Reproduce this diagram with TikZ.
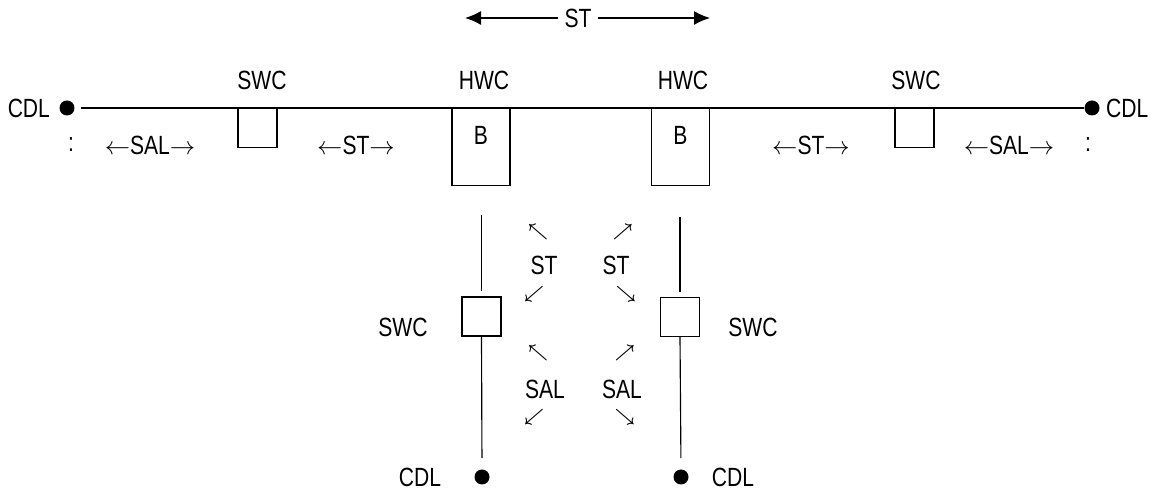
\documentclass[tikz,border=0pt]{standalone}
\usepackage{fontspec}
\setmainfont{Liberation Sans}[FakeStretch=0.8]
\usepackage{tikz}
\usetikzlibrary{arrows.meta,positioning,calc}

\begin{document}
\begin{tikzpicture}[
    x=0.02cm,y=-0.02cm,
    font=\fontsize{15}{17}\selectfont,
    chave/.style={draw,line width=0.65pt,minimum width=0.78cm,minimum height=0.78cm,inner sep=0pt},
    bloco/.style={draw,line width=0.65pt,minimum width=1.16cm,minimum height=1.54cm,inner sep=0pt},
    ponto/.style={circle,fill=black,minimum size=0.3cm,inner sep=0pt},
    linha/.style={line width=#1},
    seta/.style={-{Latex[length=0.32cm,width=0.28cm]},line width=0.75pt},
    diag/.style={font=\fontsize{10}{11}\selectfont\boldmath,inner sep=0pt}
    ]
    \useasboundingbox (0,0) rectangle (1153,492);

    % linha principal
    \node[ponto] (cdlE) at (67,108) {};
    \node[ponto] (cdlD) at (1092,108) {};
    \node[left=0.06cm of cdlE]  (cdlEt) {CDL};
    \node[right=0pt of cdlD]    (cdlDt) {CDL};
    \node[chave,anchor=north] (swcE) at (257.5,108) {};
    \node[bloco,anchor=north] (hwcE) at (481,108) {};
    \node[bloco,anchor=north] (hwcD) at (680.5,108) {};
    \node[chave,anchor=north] (swcD) at (914.5,108) {};
    \draw[linha=0.9pt,shorten <=0.12cm] (cdlE) -- (cdlD);

    \node (bE) at ($(hwcE.north)+(0,27.5)$) {B};
    \node (bD) at ($(hwcD.north)+(0,27.5)$) {B};
    \node (swcEt) at (262,80) {SWC};
    \node (hwcEt) at (484,80) {HWC};
    \node (hwcDt) at (683,80) {HWC};
    \node (swcDt) at (916,80) {SWC};

    \node (pE)   at (71,145)   {:};
    \node (salE) at (150,145)  {$\leftarrow$SAL$\rightarrow$};
    \node (stE)  at (356,145)  {$\leftarrow$ST$\rightarrow$};
    \node (stD)  at (811,145)  {$\leftarrow$ST$\rightarrow$};
    \node (salD) at (1009,145) {$\leftarrow$SAL$\rightarrow$};
    \node (pD)   at (1088,145) {:};

    % ST no topo
    \node (stTopo) at (578,18) {ST};
    \coordinate (setaE) at (465,18);
    \coordinate (setaD) at (710,18);
    \draw[seta] (stTopo) -- (setaE);
    \draw[seta] (stTopo) -- (setaD);

    % ramos verticais
    \coordinate (topo1) at (481.5,215);
    \coordinate (topo2) at (680,217);
    \node[chave] (swcB1) at (481.5,316.5) {};
    \node[chave] (swcB2) at (680,317) {};
    \node[ponto] (cdlB1) at (482,477) {};
    \node[ponto] (cdlB2) at (681,477) {};
    \draw[linha=0.65pt,shorten >=0.1cm] (topo1) -- (swcB1.north);
    \draw[linha=0.65pt,shorten >=0.1cm] (topo2) -- (swcB2.north);
    \draw[linha=0.65pt,shorten >=0.22cm] (swcB1.south) -- (cdlB1.north);
    \draw[linha=0.65pt,shorten >=0.22cm] (swcB2.south) -- (cdlB2.north);

    \node (swcB1t) at (403,327) {SWC};
    \node (swcB2t) at (753,327) {SWC};
    \node (cdlB1t) at (420,477) {CDL};
    \node (cdlB2t) at (733,477) {CDL};

    % setas diagonais
    \node[diag] (a1) at (538,232) {$\nwarrow$};
    \node (st1) at (544,265) {ST};
    \node[diag] (a2) at (534,294) {$\swarrow$};
    \node[diag] (a3) at (538,353) {$\nwarrow$};
    \node (sal1) at (545,389) {SAL};
    \node[diag] (a4) at (534,417) {$\swarrow$};

    \node[diag] (a5) at (623,232) {$\nearrow$};
    \node (st2) at (616,265) {ST};
    \node[diag] (a6) at (626,294) {$\searrow$};
    \node[diag] (a7) at (625,353) {$\nearrow$};
    \node (sal2) at (622,389) {SAL};
    \node[diag] (a8) at (625,417) {$\searrow$};
  \end{tikzpicture}
\end{document}
